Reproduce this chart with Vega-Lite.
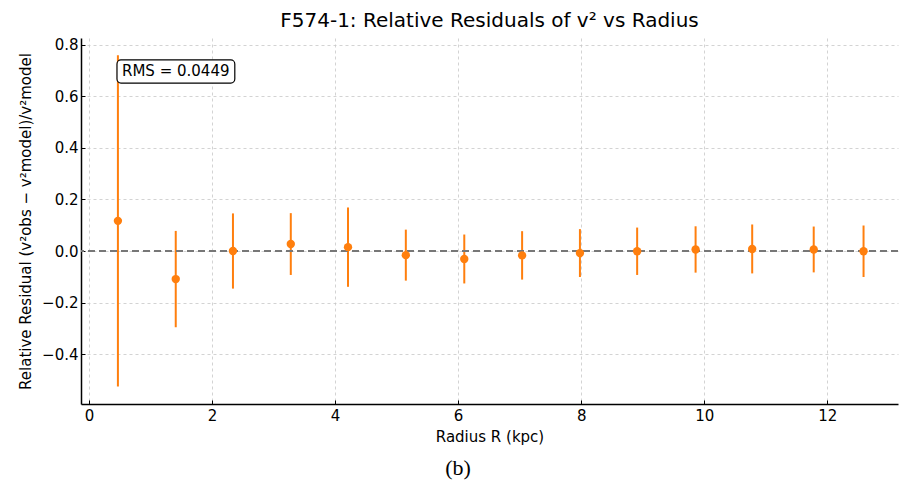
{
  "$schema": "https://vega.github.io/schema/vega-lite/v6.json",
  "width": 817,
  "height": 366,
  "autosize": {"type": "none"},
  "padding": {"left": 81, "top": 38, "right": 1, "bottom": 78},
  "background": "white",
  "title": {"text": "F574-1: Relative Residuals of v² vs Radius", "font": "DejaVu Sans", "fontSize": 20, "fontWeight": "normal", "color": "black", "anchor": "middle", "offset": 7},
  "config": {
    "view": {"stroke": null},
    "axis": {"labelFont": "DejaVu Sans", "titleFont": "DejaVu Sans", "labelFontSize": 15, "titleFontSize": 15, "titleFontWeight": "normal", "labelColor": "black", "titleColor": "black", "domainColor": "black", "domainWidth": 1.5, "tickColor": "black", "tickSize": -4, "tickWidth": 1, "grid": true, "gridColor": "#c8c8c8", "gridDash": [3, 3], "gridWidth": 0.8}
  },
  "data": {"values": [
    {"r": 0.47, "res": 0.117, "err": 0.643},
    {"r": 1.41, "res": -0.109, "err": 0.187},
    {"r": 2.34, "res": 0.0, "err": 0.146},
    {"r": 3.28, "res": 0.027, "err": 0.12},
    {"r": 4.21, "res": 0.015, "err": 0.154},
    {"r": 5.15, "res": -0.016, "err": 0.099},
    {"r": 6.1, "res": -0.031, "err": 0.095},
    {"r": 7.04, "res": -0.017, "err": 0.094},
    {"r": 7.98, "res": -0.008, "err": 0.093},
    {"r": 8.91, "res": -0.001, "err": 0.092},
    {"r": 9.86, "res": 0.006, "err": 0.09},
    {"r": 10.78, "res": 0.008, "err": 0.095},
    {"r": 11.78, "res": 0.006, "err": 0.089},
    {"r": 12.59, "res": -0.001, "err": 0.1}
  ]},
  "layer": [
    {
      "transform": [{"calculate": "datum.res - datum.err", "as": "lo"}, {"calculate": "datum.res + datum.err", "as": "hi"}],
      "mark": {"type": "rule", "color": "#ff7f0e", "strokeWidth": 2},
      "encoding": {
        "x": {"field": "r", "type": "quantitative", "scale": {"domain": [-0.13, 13.15], "nice": false, "zero": false},
              "axis": {"title": "Radius R (kpc)", "values": [0, 2, 4, 6, 8, 10, 12], "format": "d", "labelPadding": 8, "titlePadding": 6, "grid": true}},
        "y": {"field": "lo", "type": "quantitative", "scale": {"domain": [-0.594, 0.827], "nice": false, "zero": false},
              "axis": {"title": "Relative Residual (v²obs − v²model)/v²model", "values": [-0.4, -0.2, 0, 0.2, 0.4, 0.6, 0.8], "format": ".1f", "labelPadding": 7, "titlePadding": 8, "grid": true}},
        "y2": {"field": "hi"}
      }
    },
    {
      "data": {"values": [{}]},
      "mark": {"type": "rule", "color": "#777777", "strokeDash": [7, 4], "strokeWidth": 2},
      "encoding": {"y": {"datum": 0, "type": "quantitative"}}
    },
    {
      "mark": {"type": "point", "filled": true, "color": "#ff7f0e", "opacity": 1, "size": 70},
      "encoding": {
        "x": {"field": "r", "type": "quantitative"},
        "y": {"field": "res", "type": "quantitative"}
      }
    },
    {
      "data": {"values": [{}]},
      "mark": {"type": "rect", "fill": "white", "stroke": "black", "strokeWidth": 1.2, "cornerRadius": 4},
      "encoding": {
        "x": {"datum": 0.455, "type": "quantitative"},
        "x2": {"datum": 2.37},
        "y": {"datum": 0.742, "type": "quantitative"},
        "y2": {"datum": 0.652}
      }
    },
    {
      "data": {"values": [{}]},
      "mark": {"type": "text", "text": "RMS = 0.0449", "font": "DejaVu Sans", "fontSize": 15, "color": "black", "align": "center", "baseline": "middle"},
      "encoding": {
        "x": {"datum": 1.41, "type": "quantitative"},
        "y": {"datum": 0.697, "type": "quantitative"}
      }
    },
    {
      "data": {"values": [{}]},
      "mark": {"type": "text", "text": "(b)", "font": "Liberation Serif", "fontSize": 22, "color": "black", "align": "center", "baseline": "middle", "clip": false},
      "encoding": {
        "x": {"datum": 6.0, "type": "quantitative"},
        "y": {"datum": -0.843, "type": "quantitative"}
      }
    }
  ]
}
